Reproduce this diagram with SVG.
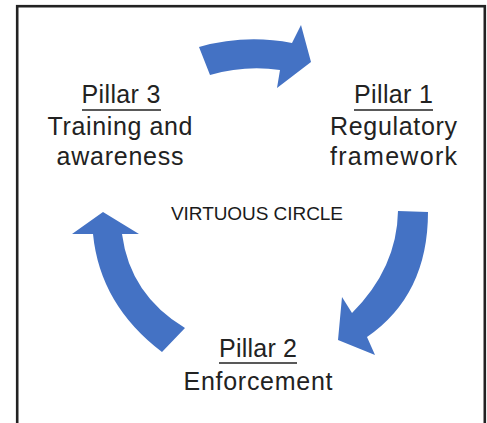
<svg xmlns="http://www.w3.org/2000/svg" width="487" height="423" viewBox="0 0 487 423">
<style>
.lbl{font-family:"Liberation Sans",Arial,sans-serif;font-size:25px;fill:#222;text-anchor:middle}
.ctr{font-family:"Liberation Sans",Arial,sans-serif;font-size:19px;fill:#1a1a1a;text-anchor:middle}
.ul{stroke:#222;stroke-width:1.6}
.arrow{fill:#4472C4}
</style>
<rect width="487" height="423" fill="#fff"/>
<rect x="17.2" y="6.2" width="467.6" height="440" fill="none" stroke="#222" stroke-width="2.6"/>
<g id="connectors">
<path class="arrow" d="M199,47 Q245,34 292,43 L301,25 L311,62 L277,88 L280,70 Q245,65 210,75 Z"/>
<path class="arrow" d="M398,211 L428,212 Q428,295 367,337 L375,355 L338,340 L342,297 L352,313 Q397,268 398,211 Z"/>
<path class="arrow" d="M103,212 L139,234 L122,234 Q130,295 185,328 L162,352 Q100,305 93,234 L72,234 Z"/>
</g>
<g id="pillar1">
<text class="lbl" x="393.5" y="103" textLength="79">Pillar 1</text>
<line class="ul" x1="354" y1="110" x2="433" y2="110"/>
<text class="lbl" x="393.5" y="135" textLength="127">Regulatory</text>
<text class="lbl" x="393.5" y="165" textLength="127">framework</text>
</g>
<g id="pillar2">
<text class="lbl" x="258" y="357" textLength="78">Pillar 2</text>
<line class="ul" x1="219" y1="363" x2="297" y2="363"/>
<text class="lbl" x="258" y="390" textLength="149">Enforcement</text>
</g>
<g id="pillar3">
<text class="lbl" x="121" y="103" textLength="79">Pillar 3</text>
<line class="ul" x1="82" y1="110" x2="161" y2="110"/>
<text class="lbl" x="120" y="135" textLength="145">Training and</text>
<text class="lbl" x="120" y="165" textLength="127">awareness</text>
</g>
<g id="center">
<text class="ctr" x="257" y="220" textLength="172">VIRTUOUS CIRCLE</text>
</g>
</svg>
